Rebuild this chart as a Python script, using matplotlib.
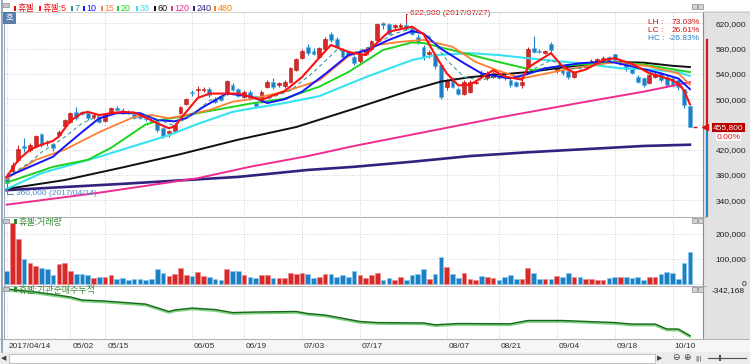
import matplotlib
matplotlib.use("Agg")
import matplotlib.pyplot as plt
import matplotlib.transforms as mtrans
from matplotlib.patches import Rectangle
from matplotlib.lines import Line2D

plt.rcParams['font.family'] = ['Liberation Sans', 'Noto Sans CJK KR', 'DejaVu Sans']
plt.rcParams['axes.unicode_minus'] = False

# ---------------- data ----------------
stock = '휴젤'
tick_idx = [0, 11, 17, 32, 41, 51, 61, 76, 85, 95, 105, 115]
tick_lbl = ['2017/04/14', '05/02', '05/15', '06/05', '06/19', '07/03', '07/17',
            '08/07', '08/21', '09/04', '09/18', '10/10']
high_date = '2017/07/27'
low_date = '2017/04/14'

# prices in thousand KRW
opens = [378, 386, 404, 426, 419, 426, 445, 433, 429, 443, 457, 464, 480, 480, 478, 472, 472, 466, 479, 486,
         483, 480, 477, 473, 471, 467, 464, 454, 446, 449, 478, 493, 511, 515, 515, 516, 501, 505, 509, 522,
         516, 504, 512, 494, 496, 520, 528, 522, 521, 528, 546, 566, 583, 576, 567, 579, 604, 596, 578, 575,
         567, 560, 572, 579, 594, 621, 619, 614, 615, 617, 611, 599, 583, 572, 570, 554, 520, 533, 517, 509,
         512, 526, 542, 534, 536, 540, 537, 530, 527, 522, 551, 581, 577, 574, 588, 544, 546, 544, 536, 553,
         551, 558, 559, 564, 567, 571, 558, 556, 548, 536, 533, 526, 536, 541, 536, 533, 530, 516, 490]
highs = [383, 401, 428, 438, 430, 443, 447, 436, 431, 452, 469, 480, 488, 482, 482, 477, 474, 478, 488, 490,
         486, 483, 480, 476, 474, 470, 467, 456, 452, 462, 490, 502, 515, 521, 519, 520, 503, 507, 531, 525,
         518, 514, 514, 496, 514, 530, 533, 528, 530, 551, 565, 579, 588, 581, 583, 598, 607, 599, 581, 578,
         570, 574, 582, 594, 620, 622, 620, 619, 620, 622.9, 613, 603, 586, 578, 574, 556, 532, 536, 519, 530,
         530, 531, 546, 544, 545, 542, 540, 532, 529, 532, 583, 600, 579, 578, 590, 553, 548, 546, 545, 556,
         558, 563, 565, 568, 569, 572, 564, 558, 550, 538, 536, 540, 544, 543, 538, 535, 532, 517, 491]
lows = [360, 382, 401, 417, 416, 424, 425, 426, 418, 440, 455, 462, 467, 475, 467, 469, 462, 464, 477, 481,
        476, 476, 469, 468, 466, 462, 448, 438, 440, 447, 476, 491, 505, 504, 511, 504, 494, 497, 507, 513,
        503, 502, 499, 487, 494, 518, 516, 520, 518, 526, 544, 564, 570, 570, 565, 577, 591, 581, 565, 568,
        554, 558, 570, 577, 592, 612, 602, 612, 613, 609, 602, 588, 562, 566, 548, 500, 515, 518, 507, 507,
        510, 524, 534, 531, 533, 532, 531, 520, 519, 518, 549, 573, 573, 572, 575, 541, 539, 532, 534, 548,
        549, 556, 557, 562, 560, 560, 555, 545, 540, 525, 520, 524, 534, 528, 520, 520, 515, 486, 455.8]
closes = [368, 396, 421, 422, 427, 442, 428, 430, 422, 448, 467, 478, 470, 477, 471, 475, 464, 477, 486, 483,
          479, 478, 471, 470, 468, 464, 451, 442, 449, 459, 488, 500, 510, 516, 516, 507, 496, 499, 529, 515,
          505, 512, 501, 489, 512, 528, 520, 526, 527, 549, 563, 577, 573, 572, 581, 596, 594, 583, 567, 570,
          557, 572, 580, 593, 619, 617, 604, 617, 617, 612, 604, 591, 567, 575, 552, 504, 530, 520, 509, 528,
          528, 528, 536, 542, 542, 534, 533, 523, 521, 528, 579, 575, 575, 576, 578, 552, 541, 535, 543, 551,
          555, 561, 563, 566, 563, 562, 562, 548, 542, 528, 523, 538, 540, 530, 523, 523, 520, 491, 455.8]
# volume in thousand shares
volume = [51, 244, 180, 100, 84, 73, 64, 61, 35, 81, 84, 51, 40, 40, 37, 24, 29, 27, 35, 21,
          24, 15, 21, 19, 16, 21, 61, 45, 32, 39, 64, 35, 33, 49, 32, 29, 21, 16, 61, 52,
          52, 37, 29, 25, 35, 37, 25, 25, 25, 45, 41, 44, 40, 23, 29, 40, 40, 29, 37, 29,
          53, 37, 24, 35, 45, 17, 24, 15, 29, 17, 37, 40, 60, 21, 40, 107, 68, 39, 24, 43,
          21, 15, 32, 29, 24, 16, 27, 35, 21, 19, 65, 43, 21, 19, 21, 32, 27, 43, 27, 27,
          21, 19, 16, 16, 24, 29, 27, 27, 24, 27, 17, 29, 27, 40, 48, 44, 21, 83, 129]

# moving averages (index, thousand KRW)
ma5_i = [0, 2, 4, 6, 8, 9, 11, 13, 14, 16, 18, 20, 22, 24, 26, 28, 29, 31, 33, 35, 38, 40, 42, 44, 48, 51, 54, 56,
         59, 62, 64, 66, 70, 72, 74, 76, 78, 80, 82, 84, 86, 89, 90, 94, 96, 98, 100, 103, 105, 108, 111, 113, 115,
         116, 117, 118]
ma5_v = [377, 404, 420, 428, 434, 441, 466, 478, 480, 475, 478, 480, 479, 471, 462, 454, 457, 480, 502, 509, 509,
         509, 504, 499, 513, 535, 566, 586, 575, 570, 590, 607, 615, 603, 570, 541, 522, 523, 534, 546, 536, 531,
         550, 573, 552, 542, 547, 562, 565, 556, 541, 536, 530, 524, 514, 492]
ma7_i = [0, 4, 6, 10, 13, 16, 20, 24, 27, 29, 32, 35, 39, 42, 45, 49, 53, 57, 60, 63, 67, 70, 73, 76, 79, 82, 85,
         88, 91, 94, 97, 100, 104, 107, 110, 113, 116, 118]
ma7_v = [377, 400, 416, 440, 462, 474, 480, 475, 465, 458, 476, 498, 509, 506, 500, 514, 543, 578, 574, 584, 604,
         612, 600, 562, 535, 530, 538, 532, 548, 562, 548, 550, 561, 557, 546, 537, 527, 506]
ma10_i = [0, 4, 8, 10, 13, 16, 19, 23, 26, 29, 31, 34, 38, 42, 45, 48, 51, 55, 59, 62, 66, 70, 72, 75, 79, 82, 85,
          87, 90, 93, 99, 104, 108, 113, 116, 118]
ma10_v = [377, 393, 409, 425, 448, 470, 478, 478, 467, 465, 470, 488, 509, 505, 494, 500, 512, 540, 570, 577, 594,
          608, 604, 580, 557, 541, 536, 533, 540, 549, 557, 560, 552, 541, 533, 516]
ma15_i = [0, 5, 10, 16, 22, 25, 28, 31, 35, 39, 42, 48, 54, 59, 64, 68, 72, 77, 81, 85, 89, 96, 105, 111, 116, 118]
ma15_v = [374, 404, 420, 448, 472, 475, 470, 475, 483, 496, 500, 512, 530, 568, 586, 591, 594, 583, 559, 545, 533,
          546, 559, 552, 541, 523]
ma20_i = [0, 8, 14, 18, 24, 27, 30, 33, 39, 42, 48, 54, 59, 65, 70, 72, 79, 85, 91, 96, 105, 110, 116, 118]
ma20_v = [368, 393, 404, 423, 460, 468, 472, 478, 488, 493, 501, 520, 543, 578, 590, 589, 573, 559, 546, 553, 559,
          555, 546, 543]
ma33_i = [0, 6, 16, 28, 33, 39, 42, 48, 54, 62, 70, 74, 80, 85, 90, 99, 106, 110, 116, 118]
ma33_v = [358, 383, 409, 443, 461, 480, 485, 494, 505, 535, 562, 570, 573, 570, 565, 557, 549, 548, 543, 537]
ma60_i = [0, 10, 20, 30, 40, 50, 60, 70, 75, 80, 90, 100, 105, 110, 115, 118]
ma60_v = [358, 372, 392, 413, 436, 456, 485, 515, 528, 535, 543, 555, 559, 558, 553, 551]
ma120_i = [0, 16, 33, 42, 52, 60, 70, 80, 85, 100, 110, 118]
ma120_v = [333, 352, 375, 393, 410, 426, 444, 462, 471, 496, 512, 527]
ma240_i = [0, 20, 40, 52, 60, 70, 80, 90, 100, 110, 118]
ma240_v = [356, 366, 377, 388, 393, 401, 410, 416, 421, 426, 428]

ma_periods = ['5', '7', '10', '15', '20', '33', '60', '120', '240', '480']
ma_colors = ['#ff1010', '#2f8f8f', '#1414ff', '#ff7f33', '#1fd41f', '#35e3f0', '#101010', '#ef2d8f',
             '#33207f', '#ff8000']

# institutional net buying, cumulative (thousand shares, relative)
flow_i = [0, 5, 11, 13, 17, 24, 28, 29, 32, 36, 39, 43, 50, 52, 55, 61, 64, 72, 74, 78, 87, 90, 96, 105, 108,
          112, 114, 116, 118]
flow_v = [0, -22, -58, -80, -88, -110, -164, -153, -139, -150, -172, -168, -164, -179, -190, -237, -245, -248,
          -261, -252, -254, -230, -230, -245, -256, -256, -292, -292, -340]
flow_label = '-342,168'
bar_top = 594  # top of the red price-range bar on the scale

# ---------------- figure ----------------
W, H = 750, 364
RED, BLUE = '#d42a2a', '#1b80c4'
fig = plt.figure(figsize=(W / 100, H / 100), dpi=100)
fig.patch.set_facecolor('white')


def fx(px):
    return px / W


def fy(py):
    return 1 - py / H


def frect(x0, y0, x1, y1, **kw):
    r = Rectangle((fx(x0), fy(y1)), (x1 - x0) / W, (y1 - y0) / H, transform=fig.transFigure, **kw)
    fig.add_artist(r)
    return r


def fline(xs, ys, **kw):
    fig.add_artist(Line2D([fx(v) for v in xs], [fy(v) for v in ys], transform=fig.transFigure, **kw))


# backgrounds
frect(703, 11, 750, 339, fc='#e2e2e2', ec='none', zorder=0)
frect(0, 339, 750, 352, fc='#f6f6f6', ec='none', zorder=0)
frect(0, 352, 750, 364, fc='#ececec', ec='none', zorder=0)
frect(9, 353.5, 655, 362.5, fc='white', ec='#b8b8b8', lw=0.6, zorder=1)

L, R = 4, 703
X0, X1 = -0.47, 120.26
ax = fig.add_axes([fx(L), fy(216), (R - L) / W, (216 - 12) / H])
axv = fig.add_axes([fx(L), fy(285), (R - L) / W, (285 - 218) / H])
axf = fig.add_axes([fx(L), fy(339), (R - L) / W, (339 - 286) / H])

idx = list(range(len(closes)))
up = [c >= o for o, c in zip(opens, closes)]
cols = [RED if u else BLUE for u in up]
edges = ['#b01818' if u else '#5fb0e6' for u in up]

for a in (ax, axv, axf):
    a.set_xlim(X0, X1)
    a.set_facecolor('white')
    for s in ('top', 'bottom'):
        a.spines[s].set_visible(False)
    a.spines['left'].set_color('#9aa6b8')
    a.spines['right'].set_color('#8a8a8a')
    a.set_xticks(tick_idx)
    a.grid(True, axis='x', ls=(0, (1, 2)), color='#c4c4c4', lw=0.6)
    a.yaxis.tick_right()
    a.set_axisbelow(True)

# price panel
ax.set_ylim(315070, 638200)
ax.vlines(idx, [v * 1000 for v in lows], [v * 1000 for v in highs], colors=cols, lw=0.8, zorder=2)
ax.bar(idx, [max(abs(c - o), 1.0) * 1000 for o, c in zip(opens, closes)],
       bottom=[min(o, c) * 1000 for o, c in zip(opens, closes)], width=0.66,
       color=cols, edgecolor=edges, lw=0.4, zorder=2.5)

ma_data = [(ma240_i, ma240_v, 8, 1.9, '-'), (ma120_i, ma120_v, 7, 1.4, '-'), (ma60_i, ma60_v, 6, 1.4, '-'),
           (ma33_i, ma33_v, 5, 1.5, '-'), (ma20_i, ma20_v, 4, 1.4, '-'), (ma15_i, ma15_v, 3, 1.3, '-'),
           (ma10_i, ma10_v, 2, 1.4, '-'), (ma7_i, ma7_v, 1, 0.7, (0, (4, 3))), (ma5_i, ma5_v, 0, 1.5, '-')]
for mi, mv, ci, lw, ls in ma_data:
    ax.plot(mi, [v * 1000 for v in mv], color=ma_colors[ci], lw=lw, ls=ls, zorder=3,
            solid_joinstyle='round')

last = closes[-1]
pt = [340000 + 40000 * k for k in range(8)]
ax.set_yticks(pt)
# the tick label hidden behind the current-price box is left blank, as in the reference
ax.set_yticklabels(['' if abs(v - last * 1000) < 12000 else f'{v:,}' for v in pt])
ax.grid(True, axis='y', ls=(0, (1, 2)), color='#c4c4c4', lw=0.6)
ax.tick_params(axis='y', length=0, pad=31, labelsize=6, labelcolor='#202020')
for t in ax.get_yticklabels():
    t.set_ha('right')
ax.tick_params(axis='x', length=0, labelbottom=False)

# high / low markers
hi = max(highs)
hi_i = highs.index(hi)
lo = min(lows)
lo_i = lows.index(lo)
ax.annotate(f'{int(hi * 1000):,} ({high_date})', xy=(hi_i, hi * 1000), xytext=(4, 8),
            textcoords='offset pixels', fontsize=6, color='#d01010', ha='left', va='center',
            arrowprops=dict(arrowstyle='-', color='#d01010', lw=0.7,
                            connectionstyle='angle,angleA=0,angleB=90,rad=0', shrinkA=0, shrinkB=0),
            zorder=6)
ax.annotate(f'{int(lo * 1000):,} ({low_date})', xy=(lo_i, lo * 1000), xytext=(9, -6),
            textcoords='offset pixels', fontsize=6, color='#4a86c8', ha='left', va='center',
            arrowprops=dict(arrowstyle='-', color='#4a86c8', lw=0.7,
                            connectionstyle='angle,angleA=0,angleB=90,rad=0', shrinkA=0, shrinkB=0),
            zorder=6)

# LH / LC / HC
stats = [('LH', hi / lo - 1, '#d01010'), ('LC', last / lo - 1, '#d01010'), ('HC', last / hi - 1, '#2a7fc0')]
for k, (nm, val, c) in enumerate(stats):
    fig.text(fx(648), fy(23 + 8 * k), f'{nm} :', fontsize=6, color=c, ha='left', va='center')
    fig.text(fx(700), fy(23 + 8 * k), f'{val * 100:.2f}%', fontsize=6, color=c, ha='right', va='center')

# current price marker
blend = mtrans.blended_transform_factory(fig.transFigure, ax.transData)
ax.hlines(last * 1000, len(closes) - 0.55, len(closes) + 0.3, color='#e01010', lw=1.0, zorder=4)
ax.add_line(Line2D([fx(706.5)] * 2, [bar_top * 1000, last * 1000], transform=blend, color='#d81818',
                   lw=1.6, clip_on=False, zorder=5))
ax.add_line(Line2D([fx(706.5)] * 2, [last * 1000, 315070], transform=blend, color='#2a86c6',
                   lw=1.6, clip_on=False, zorder=5))
ax.add_line(Line2D([fx(704.5)], [last * 1000], transform=blend, marker='<', ms=4, color='#d81818',
                   clip_on=False, zorder=6))
ax.text(fx(728.5), last * 1000, f'{int(last * 1000):,}', transform=blend, fontsize=6, color='white',
        ha='center', va='center', zorder=7,
        bbox=dict(boxstyle='square,pad=0.12', fc='#b80000', ec='none'))
ax.annotate('0.00%', xy=(fx(728.5), last * 1000), xycoords=blend, xytext=(0, -10),
            textcoords='offset pixels', fontsize=6, color='#e01010', ha='center', va='center', zorder=7,
            bbox=dict(boxstyle='square,pad=0.1', fc='white', ec='none'))

# volume panel
axv.set_ylim(-4000, 264000)
axv.bar(idx, [v * 1000 for v in volume], width=0.8, color=cols,
        edgecolor=['#f08a8a' if u else '#8ccaf0' for u in up], lw=0.5, zorder=2)
vt = [0, 100000, 200000]
axv.set_yticks(vt)
axv.set_yticklabels([f'{v:,}' for v in vt])
axv.grid(True, axis='y', ls=(0, (1, 2)), color='#c4c4c4', lw=0.6)
axv.tick_params(axis='y', length=0, pad=31, labelsize=6, labelcolor='#202020')
for t in axv.get_yticklabels():
    t.set_ha('right')
axv.tick_params(axis='x', length=0, labelbottom=False)

# flow panel
axf.set_ylim(-365, 22)
off = mtrans.offset_copy(axf.transData, fig=fig, x=0, y=-1.2, units='dots')
axf.plot(flow_i, flow_v, color='#7fd07f', lw=1.6, transform=off, zorder=2)
axf.plot(flow_i, flow_v, color='#17661a', lw=1.0, zorder=3)
axf.set_yticks([])
axf.set_xticklabels(tick_lbl, fontsize=6, color='#303030', ha='left')
axf.tick_params(axis='x', length=0, pad=3)
for t in axf.get_xticklabels():
    t.set_transform(t.get_transform() + mtrans.ScaledTranslation(2 / 100, 0, fig.dpi_scale_trans))
fig.text(fx(745), fy(291), flow_label, fontsize=6, color='#202020', ha='right', va='center')

# separators
fline([4, 706], [217, 217], color='#b4b4b4', lw=0.8)
fline([4, 706], [285.5, 285.5], color='#b4b4b4', lw=0.8)
fline([0, 750], [339, 339], color='#b4b4b4', lw=0.8)
fline([0, 750], [11.5, 11.5], color='#c8c8c8', lw=0.6)
fline([1.5, 1.5], [0, 352], color='#7f9db9', lw=1.2)

# header legend
frect(3, 2.5, 9, 7, fc='#c8c8c8', ec='#8a8a8a', lw=0.5, zorder=5)
legend_items = [(stock, '#e01010', 14), (f'{stock}:' + ma_periods[0], ma_colors[0], 39)]
xs = [71, 83, 101, 117, 136, 154, 171, 193, 214]
for p, c, x in zip(ma_periods[1:], ma_colors[1:], xs):
    legend_items.append((p, c, x))
for lbl, c, x in legend_items:
    frect(x, 5.5, x + 2, 11, fc=c, ec='none', zorder=5)
    fig.text(fx(x + 3.5), fy(8.2), lbl, fontsize=6.5, color=c, ha='left', va='center')

frect(3, 12.5, 15, 22.5, fc='#5b7fae', ec='#3d5f8e', lw=0.5, zorder=6)
fig.text(fx(9), fy(17.5), '호', fontsize=6, color='white', ha='center', va='center', zorder=7)

# panel titles
frect(3, 219, 9, 223, fc='#c8c8c8', ec='#8a8a8a', lw=0.5, zorder=5)
frect(14, 218.5, 16.5, 224, fc='#2a8a2a', ec='none', zorder=5)
fig.text(fx(19), fy(222), f'{stock}:거래량', fontsize=6.5, color='#3a8a3a', ha='left', va='center')
frect(3, 287, 9, 291, fc='#c8c8c8', ec='#8a8a8a', lw=0.5, zorder=5)
frect(14, 286.5, 16.5, 292, fc='#2a8a2a', ec='none', zorder=5)
fig.text(fx(19), fy(291), f'{stock}:기관순매수누적', fontsize=6.5, color='#3a8a3a', ha='left', va='center')

# window icons
for yy in (4, 218, 287):
    frect(692, yy, 696.5, yy + 4.5, fc='#d4d4d4', ec='#8a8a8a', lw=0.5, zorder=6)
    frect(698, yy, 702.5, yy + 4.5, fc='#d4d4d4', ec='#8a8a8a', lw=0.5, zorder=6)

# scroll bar glyphs
fig.text(fx(4), fy(358), '◀', fontsize=5, color='#404040', ha='center', va='center', family='DejaVu Sans')
fig.text(fx(660), fy(358), '▶', fontsize=5, color='#404040', ha='center', va='center', family='DejaVu Sans')
fig.text(fx(676), fy(358), '⊖', fontsize=6.5, color='#404040', ha='center', va='center', family='DejaVu Sans')
fig.text(fx(687), fy(358), '⊕', fontsize=6.5, color='#404040', ha='center', va='center', family='DejaVu Sans')
fig.text(fx(698), fy(358), '|||', fontsize=4.5, color='#404040', ha='center', va='center', family='DejaVu Sans')
fline([708, 746], [357.5, 357.5], color='#505050', lw=0.8)
frect(719, 354.5, 721, 360.5, fc='#505050', ec='none', zorder=5)

fig.savefig('out.png', dpi=100, facecolor=fig.get_facecolor())
